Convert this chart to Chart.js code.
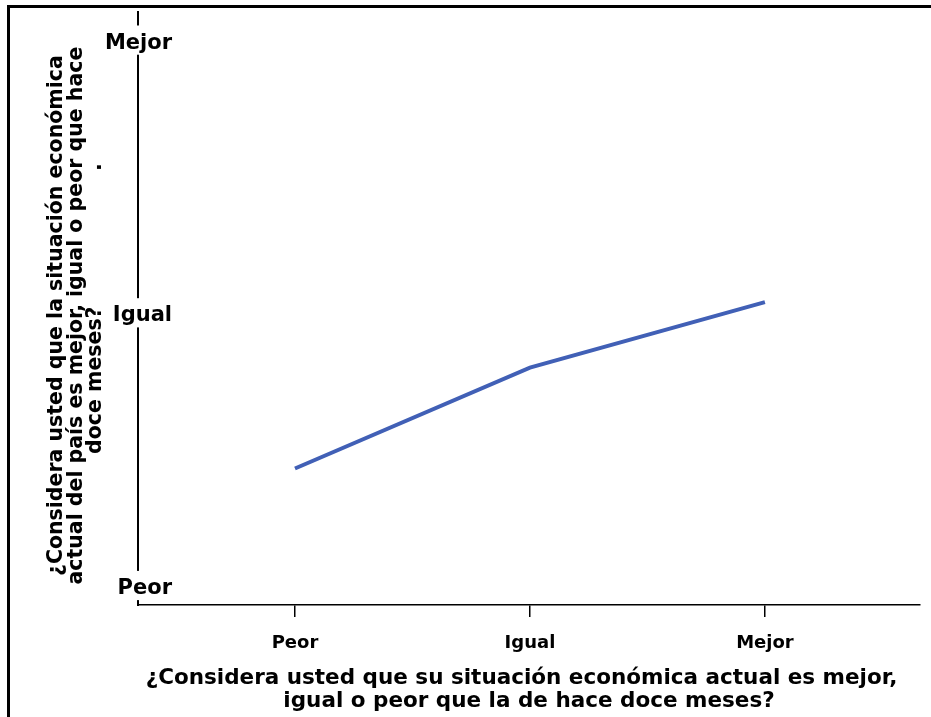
<!DOCTYPE html>
<html lang="es">
<head>
<meta charset="utf-8">
<title>Situación económica personal y del país</title>
<script src="https://cdn.jsdelivr.net/npm/chart.js@4.4.1/dist/chart.umd.min.js"></script>
<style>
  html, body { margin: 0; padding: 0; background: #ffffff; overflow: hidden; }
  /* marco negro: solo se ven los bordes superior e izquierdo */
  #marco {
    position: absolute; left: 7px; top: 5px;
    width: 1000px; height: 800px;
    border-top: 3px solid #000; border-left: 3px solid #000;
  }
  #grafico { position: absolute; left: 0; top: 0; }
</style>
</head>
<body>
<div id="marco"></div>
<canvas id="grafico" width="931" height="717"></canvas>

<script>
// Datos
const categorias = ['Peor', 'Igual', 'Mejor'];      // eje X
const valores = [1.44, 1.81, 2.05];                  // 1 = Peor, 2 = Igual, 3 = Mejor
const etiquetasY = ['Peor', 'Igual', 'Mejor'];      // eje Y
const tituloX = [
    '¿Considera usted que su situación económica actual es mejor,  ',
    'igual o peor que la de hace doce meses?'
];
const tituloY = [
    '¿Considera usted que la situación económica  ',
    'actual del país es mejor, igual o peor que hace  ',
    'doce meses?                   .'
];

const fuente = "'DejaVu Sans', sans-serif";
const negro = '#000000';

const ctx = document.getElementById('grafico').getContext('2d');

new Chart(ctx, {
    type: 'line',
    data: {
        datasets: [{
            data: valores.map((v, i) => ({ x: i + 1, y: v })),
            borderColor: '#4160b6',
            borderWidth: 4,
            pointRadius: 0,
            tension: 0,
            fill: false
        }]
    },
    options: {
        responsive: false,
        animation: false,
        layout: { padding: { left: 0, top: 12, right: 11, bottom: 4 } },
        plugins: {
            legend: { display: false },
            tooltip: { enabled: false }
        },
        scales: {
            x: {
                type: 'linear',
                bounds: 'data',
                min: 0.332,
                max: 3.66,
                afterBuildTicks: s => { s.ticks = categorias.map((c, i) => ({ value: i + 1 })); },
                afterFit: s => { s.height = 108; },
                ticks: {
                    callback: (v, i) => categorias[i],
                    color: negro,
                    font: { family: fuente, size: 18, weight: 'bold' },
                    padding: 16,
                    maxRotation: 0,
                    autoSkip: false
                },
                grid: { drawOnChartArea: false, drawTicks: true, tickLength: 12, color: negro, lineWidth: 1.5 },
                border: { display: true, color: negro, width: 1.5 },
                title: {
                    display: true,
                    text: tituloX,
                    color: negro,
                    font: { family: fuente, size: 21.5, weight: 'bold', lineHeight: '23px' },
                    padding: { top: 0, bottom: 0 }
                }
            },
            y: {
                type: 'linear',
                bounds: 'data',
                min: 0.9395,
                max: 3.114,
                afterBuildTicks: s => { s.ticks = etiquetasY.map((e, i) => ({ value: i + 1 })); },
                afterFit: s => {
                    s.width = 138;
                    // las etiquetas montan sobre la línea del eje: no recortarlas al ancho del eje
                    s._computeLabelArea = () => null;
                },
                ticks: {
                    callback: (v, i) => etiquetasY[i],
                    color: negro,
                    font: { family: fuente, size: 21, weight: 'bold' },
                    padding: -34,
                    crossAlign: 'near',
                    showLabelBackdrop: true,
                    backdropColor: '#ffffff',
                    backdropPadding: { top: 5, bottom: -1, left: 2, right: 2 }
                },
                grid: { drawOnChartArea: false, drawTicks: false },
                border: { display: true, color: negro, width: 2 },
                title: {
                    display: true,
                    text: tituloY,
                    color: negro,
                    font: { family: fuente, size: 20.5, weight: 'bold', lineHeight: '19.5px' },
                    padding: { top: 47, bottom: 0 }
                }
            }
        }
    }
});
</script>
</body>
</html>
